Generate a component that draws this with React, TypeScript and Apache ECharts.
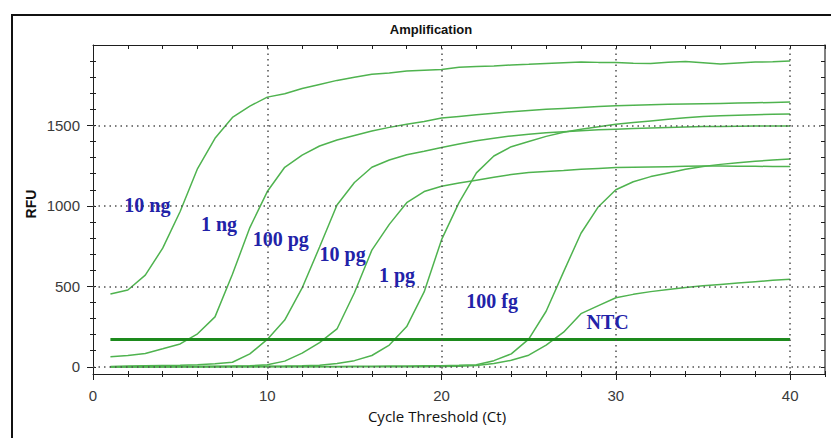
import React, { useEffect, useRef } from 'react';
import * as echarts from 'echarts';

// ---- data ----
const cycles = [1, 2, 3, 4, 5, 6, 7, 8, 9, 10, 11, 12, 13, 14, 15, 16, 17, 18, 19, 20,
  21, 22, 23, 24, 25, 26, 27, 28, 29, 30, 31, 32, 33, 34, 35, 36, 37, 38, 39, 40];

const rfu10ng = [452, 477, 570, 737, 965, 1232, 1420, 1550, 1620, 1676, 1697, 1730, 1755, 1780, 1800, 1818, 1826, 1838, 1843, 1847,
  1862, 1866, 1870, 1876, 1880, 1885, 1890, 1894, 1892, 1891, 1886, 1885, 1893, 1898, 1890, 1882, 1888, 1894, 1896, 1900];
const rfu1ng = [62, 70, 83, 112, 142, 205, 310, 575, 865, 1089, 1240, 1315, 1372, 1410, 1438, 1465, 1488, 1508, 1525, 1546,
  1556, 1566, 1576, 1585, 1593, 1600, 1606, 1612, 1618, 1622, 1625, 1628, 1631, 1633, 1635, 1637, 1639, 1641, 1643, 1645];
const rfu100pg = [2, 4, 6, 8, 10, 13, 18, 28, 80, 170, 290, 490, 744, 1005, 1145, 1240, 1285, 1318, 1340, 1363,
  1385, 1405, 1420, 1435, 1445, 1455, 1461, 1467, 1473, 1477, 1481, 1484, 1487, 1490, 1493, 1494, 1495, 1496, 1496, 1496];
const rfu10pg = [0, 0, 1, 1, 2, 2, 3, 4, 6, 12, 35, 85, 150, 235, 460, 725, 885, 1020, 1089, 1122,
  1142, 1160, 1178, 1195, 1208, 1214, 1220, 1227, 1233, 1238, 1240, 1242, 1244, 1246, 1248, 1248, 1247, 1246, 1245, 1245];
const rfu1pg = [0, 0, 0, 0, 1, 1, 1, 2, 2, 3, 4, 6, 10, 20, 38, 70, 135, 250, 465, 790,
  1020, 1205, 1310, 1368, 1400, 1432, 1458, 1476, 1492, 1508, 1518, 1528, 1538, 1548, 1556, 1560, 1564, 1567, 1569, 1571];
const rfu100fg = [0, 0, 0, 0, 0, 0, 0, 1, 1, 1, 1, 2, 2, 2, 3, 3, 4, 5, 6, 7,
  9, 12, 38, 80, 172, 345, 590, 830, 995, 1100, 1150, 1182, 1205, 1228, 1245, 1258, 1268, 1277, 1285, 1292];
const rfuNTC = [0, 0, 0, 0, 0, 0, 0, 0, 0, 0, 0, 0, 0, 0, 0, 0, 0, 0, 0, 1,
  3, 8, 20, 40, 72, 135, 215, 330, 380, 429, 450, 467, 480, 492, 503, 512, 521, 529, 537, 544];

const curveSets = [rfu10ng, rfu1ng, rfu100pg, rfu10pg, rfu1pg, rfu100fg, rfuNTC];

const thresholdCycles = [1, 40];
const thresholdRfu = 170;

const labelNames = ['10 ng', '1 ng', '100 pg', '10 pg', '1 pg', '100 fg', 'NTC'];
const labelCycles = [3.12, 7.23, 10.77, 14.32, 17.44, 22.9, 29.53];
const labelRfu = [1006, 886, 793, 699, 571, 409, 280];

const xLabelValues = [0, 10, 20, 30, 40];
const yLabelValues = [0, 500, 1000, 1500];
const yMinorValues = [0, 100, 200, 300, 400, 500, 600, 700, 800, 900, 1000, 1100, 1200, 1300, 1400, 1500, 1600, 1700, 1800, 1900];

const X_MIN = 0, X_MAX = 42;
const Y_MIN = -45, Y_MAX = 2000;

const titleText = 'Amplification';
const xName = 'Cycle Threshold (Ct)';
const yName = 'RFU';

// ---- styles ----
const SANS = "'Liberation Sans', Arial, sans-serif";
const CURVE = '#4fb34f';
const AXIS = '#1e1e1e';

export default function App() {
  const ref = useRef<HTMLDivElement | null>(null);

  useEffect(() => {
    if (!ref.current) return;
    const chart = echarts.init(ref.current, undefined, { renderer: 'svg' });

    const xBase = { type: 'value', min: X_MIN, max: X_MAX, interval: 2, gridIndex: 0 };
    const yBase = { type: 'value', min: Y_MIN, max: Y_MAX, gridIndex: 0 };
    const tickStyle = { color: AXIS, width: 1 };

    const curveSeries = curveSets.map((vals, si) => ({
      type: 'line',
      name: labelNames[si],
      data: cycles.map((c, i) => [c, vals[i]]),
      showSymbol: false,
      symbol: 'none',
      lineStyle: { color: CURVE, width: 1.5 },
      z: 3,
      silent: true,
    }));

    const option: any = {
      animation: false,
      backgroundColor: '#ffffff',
      grid: { left: 93, right: 6, top: 45, bottom: 64, containLabel: false },
      xAxis: [
        {
          ...xBase, position: 'bottom',
          axisLine: { show: true, onZero: false, lineStyle: { color: AXIS, width: 1 } },
          axisTick: { show: true, inside: false, length: 3, lineStyle: tickStyle },
          axisLabel: {
            show: true, margin: 14, fontSize: 15, color: '#3a3a3a', fontFamily: SANS,
            formatter: (v: number) => (xLabelValues.indexOf(v) >= 0 ? String(v) : ''),
          },
          splitLine: { show: false },
        },
        {
          ...xBase, position: 'bottom',
          axisLine: { show: false, onZero: false },
          axisTick: { show: true, inside: true, length: 3, lineStyle: tickStyle },
          axisLabel: { show: false },
          splitLine: { show: false },
        },
        {
          ...xBase, position: 'bottom',
          axisLine: { show: false, onZero: false },
          axisTick: { show: true, inside: false, length: 6, customValues: xLabelValues, lineStyle: tickStyle },
          axisLabel: { show: false },
          splitLine: { show: false },
        },
        {
          ...xBase, position: 'top',
          axisLine: { show: true, onZero: false, lineStyle: { color: AXIS, width: 1 } },
          axisTick: { show: true, inside: true, length: 4, lineStyle: tickStyle },
          axisLabel: { show: false },
          splitLine: { show: false },
        },
      ],
      yAxis: [
        {
          ...yBase, position: 'left',
          axisLine: { show: true, onZero: false, lineStyle: { color: AXIS, width: 1 } },
          axisTick: { show: true, inside: false, length: 6, customValues: yLabelValues, lineStyle: tickStyle },
          axisLabel: {
            show: true, customValues: yLabelValues, margin: 13, fontSize: 15, color: '#3a3a3a', fontFamily: SANS,
            formatter: (v: number) => String(v),
          },
          splitLine: { show: false },
        },
        {
          ...yBase, position: 'left',
          axisLine: { show: false, onZero: false },
          axisTick: { show: true, inside: false, length: 3, customValues: yMinorValues, lineStyle: tickStyle },
          axisLabel: { show: false },
          splitLine: { show: false },
        },
        {
          ...yBase, position: 'left',
          axisLine: { show: false, onZero: false },
          axisTick: { show: true, inside: true, length: 3, customValues: yMinorValues, lineStyle: tickStyle },
          axisLabel: { show: false },
          splitLine: { show: false },
        },
        {
          ...yBase, position: 'right',
          axisLine: { show: true, onZero: false, lineStyle: { color: '#555', width: 1.5 } },
          axisTick: { show: true, inside: true, length: 4, customValues: yMinorValues, lineStyle: tickStyle },
          axisLabel: { show: false },
          splitLine: { show: false },
        },
      ],
      series: [
        {
          type: 'line',
          name: 'grid',
          data: [],
          silent: true,
          z: 1,
          markLine: {
            silent: true,
            symbol: ['none', 'none'],
            label: { show: false },
            lineStyle: { color: '#505050', width: 1.5, type: [1.5, 4] },
            data: [
              ...xLabelValues.filter((v) => v > X_MIN).map((v) => ({ xAxis: v })),
              ...yLabelValues.map((v) => ({ yAxis: v })),
            ],
          },
        },
        ...curveSeries,
        {
          type: 'line',
          name: 'threshold',
          data: thresholdCycles.map((c) => [c, thresholdRfu]),
          showSymbol: false,
          symbol: 'none',
          lineStyle: { color: '#1d8a1d', width: 3 },
          z: 4,
          silent: true,
        },
        {
          type: 'scatter',
          name: 'labels',
          data: labelNames.map((n, i) => ({ name: n, value: [labelCycles[i], labelRfu[i]] })),
          symbolSize: 1,
          itemStyle: { color: 'transparent' },
          z: 5,
          silent: true,
          label: {
            show: true,
            position: 'inside',
            formatter: '{b}',
            fontFamily: "'Liberation Serif', 'Times New Roman', serif",
            fontWeight: 'bold',
            fontSize: 20,
            color: '#2222a8',
            textBorderWidth: 0,
            textBorderColor: 'transparent',
            opacity: 1,
          },
        },
      ],
      graphic: [
        {
          type: 'rect',
          shape: { x: 12, y: 15, width: 900, height: 500 },
          style: { fill: 'none', stroke: '#111', lineWidth: 2 },
          silent: true,
          z: 0,
        },
        {
          type: 'text',
          x: 431, y: 29,
          style: {
            text: titleText, fill: '#111', fontSize: 13, fontWeight: 'bold', fontFamily: SANS,
            textAlign: 'center', textVerticalAlign: 'middle',
          },
        },
        {
          type: 'text',
          x: 31, y: 204,
          rotation: Math.PI / 2,
          style: {
            text: yName, fill: '#111', fontSize: 14, fontWeight: 'bold', fontFamily: SANS,
            textAlign: 'center', textVerticalAlign: 'middle',
          },
        },
        {
          type: 'text',
          x: 437, y: 416,
          style: {
            text: xName, fill: '#111', fontSize: 15, fontFamily: "'Open Sans', 'Noto Sans', sans-serif",
            textAlign: 'center', textVerticalAlign: 'middle',
          },
        },
      ],
    };

    chart.setOption(option);
    return () => chart.dispose();
  }, []);

  return (
    <div
      ref={ref}
      style={{ position: 'fixed', left: 0, top: 0, width: 831, height: 438, background: '#fff' }}
    />
  );
}
